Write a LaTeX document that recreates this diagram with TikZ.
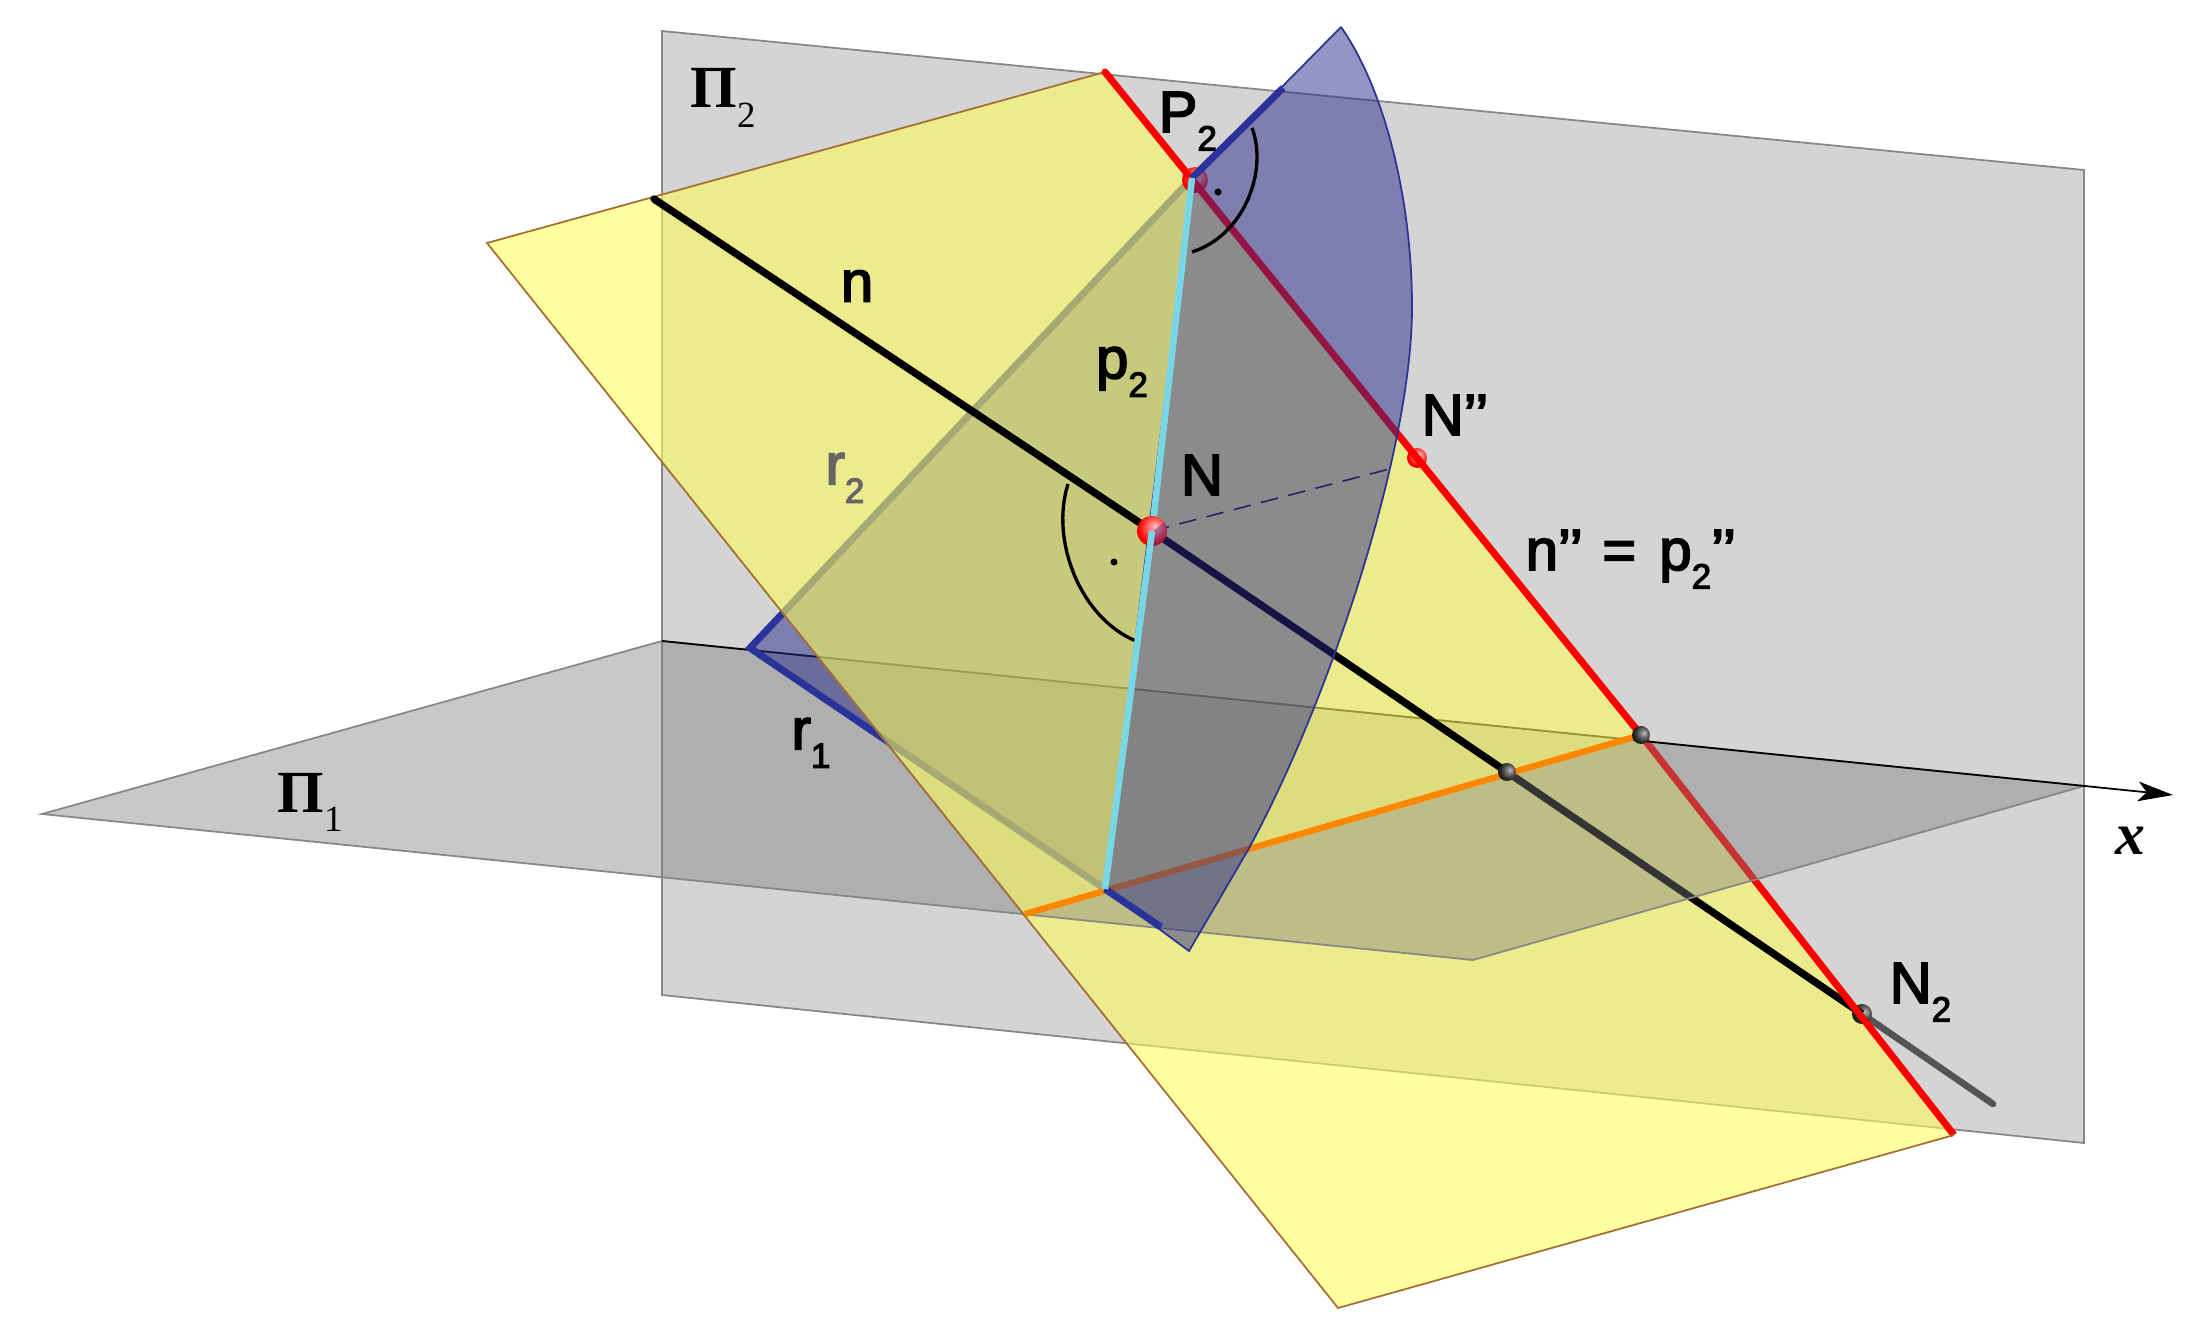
\documentclass[tikz,border=0pt]{standalone}
\usepackage{fontspec}
\setmainfont{Liberation Sans}
\newfontfamily\lblfont{Liberation Sans}[FakeBold=3]
\newfontfamily\greekfont{Liberation Serif}
\usetikzlibrary{arrows.meta}
\definecolor{planegrey}{RGB}{212,212,212}
\definecolor{hplanegrey}{RGB}{124,124,124}
\definecolor{planeyellow}{RGB}{255,255,90}
\definecolor{planeblue}{RGB}{43,43,139}
\definecolor{thickblue}{RGB}{42,51,153}
\definecolor{edgegrey}{RGB}{135,135,135}
\definecolor{edgebrown}{RGB}{165,110,50}
\definecolor{edgeblue}{RGB}{45,50,150}
\definecolor{traceorange}{RGB}{255,135,0}
\definecolor{tracecyan}{RGB}{120,215,230}
\pgfdeclareradialshading{redball}{\pgfpoint{5bp}{8bp}}{color(0bp)=(white!75!red); color(12bp)=(white!40!red); color(26bp)=(red); color(45bp)=(red!85!black); color(62bp)=(red!30!black); color(80bp)=(red!30!black)}
\pgfdeclareradialshading{greyball}{\pgfpoint{8bp}{6bp}}{color(0bp)=(black!25); color(10bp)=(black!55); color(24bp)=(black!85); color(45bp)=(black); color(80bp)=(black)}
\tikzset{
	lbl/.style={font=\lblfont\fontsize{16.5}{18}\selectfont, inner sep=0pt},
	pilbl/.style={font=\greekfont\bfseries\fontsize{17}{18}\selectfont, inner sep=0pt},
	thickline/.style={line width=2.1pt, line cap=round},
	redline/.style={line width=2pt, line cap=round, color=red},
	blueline/.style={line width=2pt, color=thickblue},
	thinedge/.style={line width=0.5pt},
	yellowfill/.style={fill=planeyellow, fill opacity=0.58},
	bluefill/.style={fill=planeblue, fill opacity=0.5},
}
\def\subs#1{\raisebox{-0.32em}{\fontsize{10}{10}\selectfont #1}}
\def\pisubs#1{\raisebox{-0.32em}{\mdseries\fontsize{10.5}{10}\selectfont #1}}
\def\ball[#1](#2)(#3){\shade[shading=#1] (#2) circle (#3);}

\begin{document}
\begin{tikzpicture}[x=0.01cm, y=-0.01cm]
	%%%%% START %%%%%
	\useasboundingbox (0, 0) rectangle (2186, 1331);

	\coordinate (pa) at (662, 31);
	\coordinate (pb) at (2084, 170);
	\coordinate (pc) at (2084, 1143);
	\coordinate (pd) at (662, 995);
	\coordinate (ha) at (42, 814);
	\coordinate (hb) at (662, 641);
	\coordinate (hc) at (2084, 786);
	\coordinate (hd) at (1473, 960);
	\coordinate (xtip) at (2173, 795);
	\coordinate (ya) at (1105, 72);
	\coordinate (yb) at (487, 243);
	\coordinate (yc) at (1338, 1308);
	\coordinate (yd) at (1954, 1135);
	\coordinate (ye) at (1025, 914);
	\coordinate (yf) at (1641, 735);
	\coordinate (Ptwo) at (1192, 178);
	\coordinate (apex) at (750, 648);
	\coordinate (btop) at (1341, 27);
	\coordinate (bbot) at (1189, 951);
	\coordinate (bend) at (1283, 88);
	\coordinate (rend) at (1161, 927);
	\coordinate (foot) at (1105, 889);
	\coordinate (N) at (1152, 531);
	\coordinate (Ndd) at (1417, 458);
	\coordinate (dashend) at (1397, 467);
	\coordinate (Ntwo) at (1862, 1014);
	\coordinate (pierce) at (1507, 772);
	\coordinate (nstart) at (654, 199);
	\coordinate (nend) at (1993, 1104);

	% vertical plane
	\draw[fill=planegrey, draw=edgegrey, thinedge] (pa) -- (pb) -- (pc) -- (pd) -- cycle;
	\draw[thickline, line width=1.9pt, color=black!67] (Ntwo) -- (nend);

	% yellow plane under the horizontal one
	\fill[yellowfill] (ye) -- (yc) -- (yd) -- (yf) -- cycle;
	\ball[greyball](Ntwo)(10)
	\draw[thickline, line cap=butt] (pierce) -- (Ntwo);
	\draw[redline, line cap=butt] (yf) -- (yd);

	% horizontal plane
	\filldraw[fill=hplanegrey, fill opacity=0.42, draw=edgegrey, thinedge] (ha) -- (hb) -- (hc) -- (hd) -- cycle;
	\draw[thinedge, -{Stealth[length=10pt, width=5.6pt, inset=2.5pt]}] (hb) -- (xtip);

	% blue plane behind the yellow one
	\fill[bluefill] (apex) -- (Ptwo) -- (foot) -- cycle;
	\draw[blueline, line join=miter] (Ptwo) -- (apex) -- (foot);

	% yellow plane above the horizontal one
	\fill[yellowfill] (ya) -- (yb) -- (ye) -- (yf) -- cycle;
	\draw[thinedge, color=edgebrown] (ya) -- (yb) -- (yc) -- (yd);
	\draw[thickline, line width=1.8pt, line cap=butt, color=traceorange] (ye) -- (yf);
	\ball[redball](1195, 180)(13)
	\ball[redball](Ndd)(10)
	\draw[redline] (ya) -- (yf);
	\draw[thickline] (nstart) -- (N);
	\draw[thickline, line cap=butt] (N) -- (pierce);

	% blue plane in front of the yellow one
	\filldraw[bluefill, draw=edgeblue, thinedge] (btop) -- (Ptwo) -- (foot) -- (bbot) -- (1248, 850)
		.. controls (1330, 700) and (1412, 450) .. (1412, 307)
		.. controls (1412, 200) and (1385, 90) .. (btop);
	\draw[blueline] (Ptwo) -- (bend);
	\draw[blueline] (foot) -- (rend);
	\draw[line width=0.45pt, dash pattern=on 5pt off 3pt, color=edgeblue!70!black] (N) -- (dashend);

	% right angles
	\draw[line width=0.95pt] (1252, 128) .. controls (1268, 170) and (1245, 235) .. (1192, 252);
	\draw[line width=0.95pt] (1068, 484) .. controls (1050, 540) and (1080, 618) .. (1136, 641);
	\fill (1218, 192) circle (3.5);
	\fill (1114, 562) circle (3.5);

	\draw[line width=1.85pt, color=tracecyan] (Ptwo) -- (N);
	\ball[redball](N)(15)
	\begin{scope}
		\clip (N) circle (15);
		\fill[planeblue, opacity=0.4] (1150, 534) -- (1172, 515) -- (1172, 550) -- (1150, 550) -- cycle;
	\end{scope}
	\ball[greyball](pierce)(9)
	\ball[greyball](yf)(9)
	\draw[line width=1.85pt, color=tracecyan] (N) -- (foot);

	% labels
	\node[lbl, anchor=base west] (lblPtwo) at (1158, 132) {P\subs{2}};
	\node[lbl] (lbln) at (857, 286) {n};
	\node[lbl] (lblptwo) at (1122, 372) {p\subs{2}};
	\node[lbl, color=black!60] (lblrtwo) at (845, 478) {r\subs{2}};
	\node[lbl] (lblN) at (1202, 475) {N};
	\node[lbl, anchor=base west] (lblNdd) at (1421, 435) {N’’};
	\node[lbl, anchor=base west] (lbltrace) at (1525, 570) {n’’\kern1pt{} = \kern2pt p\subs{2}’’};
	\node[lbl] (lblrone) at (811, 743) {r\subs{1}};
	\node[lbl, anchor=base west] (lblNtwo) at (1889, 1003) {N\subs{2}};
	\node[pilbl] (lblPitwo) at (723, 98) {Π\pisubs{2}};
	\node[pilbl] (lblPione) at (310, 802) {Π\pisubs{1}};
	\node[pilbl, font=\greekfont\fontsize{17}{18}\selectfont\itshape\bfseries] (lblx) at (2130, 841) {x};
	%%%%% END %%%%%
\end{tikzpicture}
\end{document}
